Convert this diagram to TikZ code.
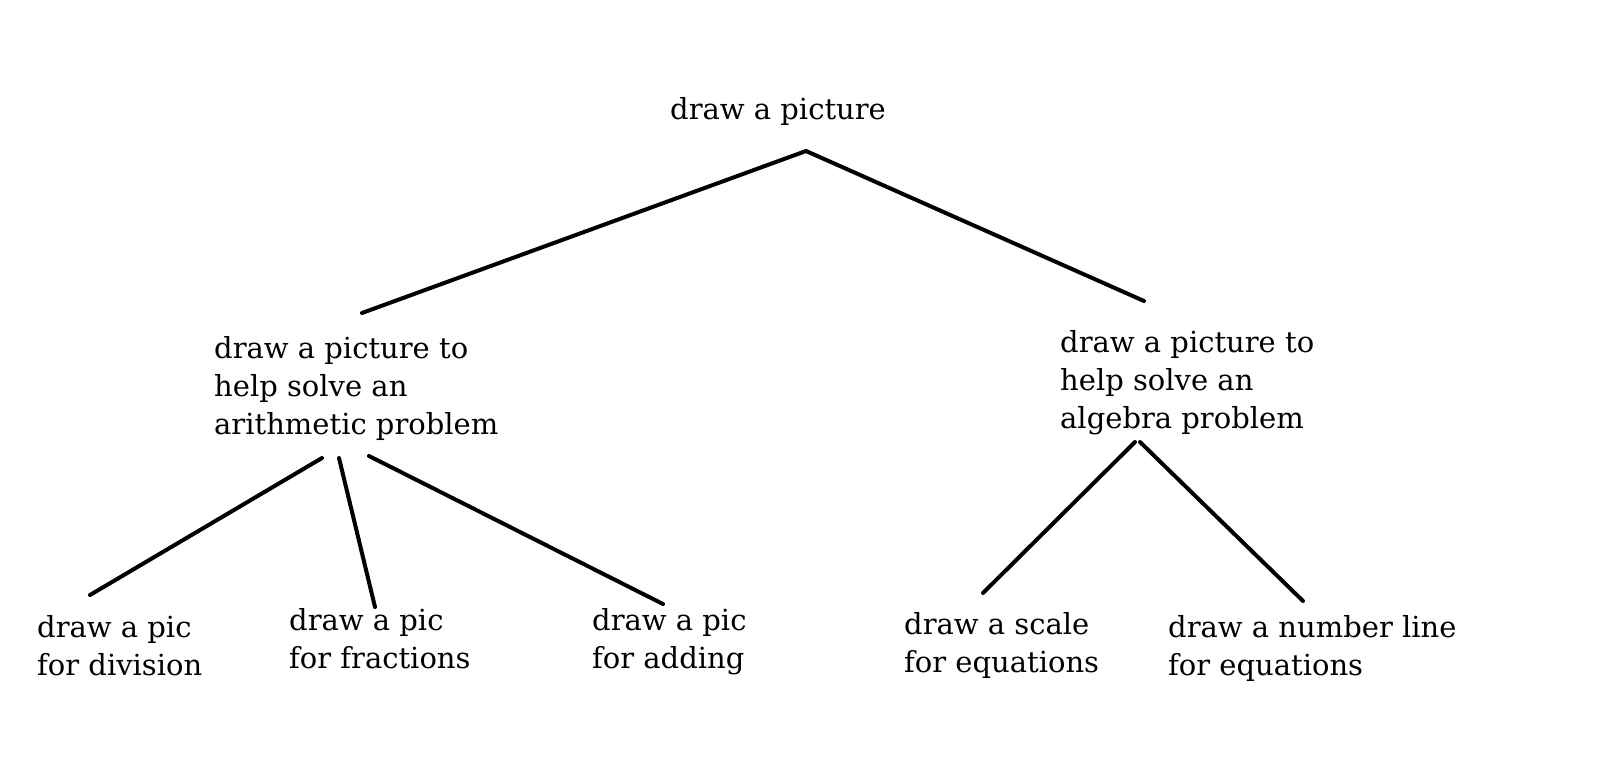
\documentclass[tikz,border=0pt]{standalone}
\usepackage{fontspec}
\setmainfont{DejaVu Serif}
\usetikzlibrary{calc}
\tikzset{
  lbl/.style={anchor=base west, inner sep=0pt, align=left, font=\fontsize{29}{38}\selectfont},
  conn/.style={line width=4pt, line cap=round, black}
}
\begin{document}
\begin{tikzpicture}[x=1pt,y=-1pt]
\fill[white] (0,0) rectangle (1600,773);
\useasboundingbox (0,0) rectangle (1600,773);
\node[lbl] (top) at (670,120) {draw a picture};
\node[lbl] (midL) at (214,434) {draw a picture to\\help solve an\\arithmetic problem};
\node[lbl] (midR) at (1060,428) {draw a picture to\\help solve an\\algebra problem};
\node[lbl] (div) at (37,675) {draw a pic\\for division};
\node[lbl] (frac) at (289,668) {draw a pic\\for fractions};
\node[lbl] (add) at (592,668) {draw a pic\\for adding};
\node[lbl] (scale) at (904,672) {draw a scale\\for equations};
\node[lbl] (numl) at (1168,675) {draw a number line\\for equations};
\draw[conn] ($(top.base west)+(136,31)$) -- ($(midL.base west)+(148,-121)$);
\draw[conn] ($(top.base west)+(136,31)$) -- ($(midR.base west)+(84,-127)$);
\draw[conn] ($(midL.base west)+(108,24)$) -- ($(div.base west)+(53,-80)$);
\draw[conn] ($(midL.base west)+(125,24)$) -- ($(frac.base west)+(86,-61)$);
\draw[conn] ($(midL.base west)+(155,22)$) -- ($(add.base west)+(71,-64)$);
\draw[conn] ($(midR.base west)+(75,14)$) -- ($(scale.base west)+(79,-79)$);
\draw[conn] ($(midR.base west)+(80,14)$) -- ($(numl.base west)+(135,-74)$);
\end{tikzpicture}
\end{document}
